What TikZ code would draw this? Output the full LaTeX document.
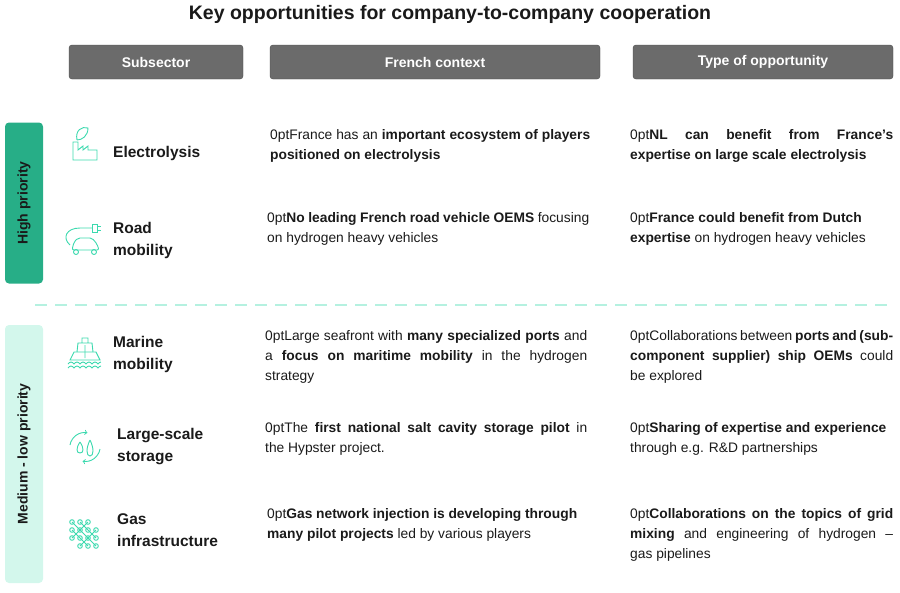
\documentclass[tikz,border=0pt]{standalone}
\usepackage{fontspec}
\setmainfont{Liberation Sans}
\definecolor{hgreen}{HTML}{27AE87}
\definecolor{mint}{HTML}{D3F7EC}
\definecolor{icon}{HTML}{3BD9AE}
\definecolor{hdr}{HTML}{6B6B6B}
\definecolor{txt}{HTML}{1A1A1A}
\begin{document}
\begin{tikzpicture}[x=1pt,y=-1pt,
  hdrbox/.style={draw=hdr!70!black,fill=hdr,rounded corners=3pt,text=white,font=\fontsize{14}{16}\selectfont\bfseries},
  sub/.style={anchor=west,align=left,text=txt,font=\fontsize{15.5}{22}\selectfont\bfseries,inner sep=0pt},
  body/.style={anchor=north west,align=justify,text=txt,font=\fontsize{13.8}{20}\selectfont\hyphenpenalty=10000\exhyphenpenalty=10000,inner sep=0pt},
  ic/.style={draw=icon,line width=0.9pt}]
\useasboundingbox (0,0) rectangle (900,592);
\node[font=\fontsize{19.5}{22}\selectfont\bfseries,text=txt] (title) at (450,14) {Key opportunities for company-to-company cooperation};
\node[hdrbox,minimum width=174,minimum height=34] (h1) at (156,62) {Subsector};
\node[hdrbox,minimum width=330,minimum height=34] (h2) at (435,62) {French context};
\node[hdrbox,minimum width=260,minimum height=34] (h3) at (763,62) {Type of opportunity};
\node[fill=hgreen,rounded corners=4pt,minimum width=38,minimum height=161] (hp) at (24,203) {};
\node[rotate=90,text=txt,font=\fontsize{14}{16}\selectfont\bfseries] (hpt) at (hp) {High priority};
\node[fill=mint,rounded corners=4pt,minimum width=38,minimum height=258] (mp) at (24,454) {};
\node[rotate=90,text=txt,font=\fontsize{14}{16}\selectfont\bfseries] (mpt) at (mp) {Medium - low priority};
\coordinate (d1) at (35,305); \coordinate (d2) at (893,305);
\draw[mint!80!icon,line width=2.5pt,dash pattern=on 12pt off 8pt] (d1) -- (d2);
% subsectors
\node[sub] (s1) at (113,153) {Electrolysis};
\node[sub] (s2) at (113,240) {Road\\mobility};
\node[sub] (s3) at (113,354) {Marine\\mobility};
\node[sub] (s4) at (117,447) {Large-scale\\storage};
\node[sub] (s5) at (117,530) {Gas\\infrastructure};
% icons
\draw[ic] (73,160) -- (73,142) -- (78,142) -- (78,150) -- (83,146) -- (83,150) -- (88,146) -- (88,150) -- (97,150) -- (97,160) -- cycle;
\draw[ic] (77,140) .. controls (75,130) and (82,126) .. (88,128) .. controls (88,136) and (82,140) .. (77,140);
\draw[ic,rounded corners=2pt] (72,250) -- (74,242) -- (78,238) -- (92,238) -- (97,244) -- (99,250) -- cycle;
\draw[ic] (76,252) circle (2.5) (94,252) circle (2.5);
\draw[ic] (70,245) .. controls (62,238) and (66,228) .. (80,228) -- (92,228);
\draw[ic] (92,224) rectangle (97,232) (97,226) -- (101,226) (97,230) -- (101,230);
\draw[ic] (70,360) -- (100,360) -- (96,352) -- (74,352) -- cycle;
\draw[ic] (77,352) -- (78,343) -- (92,343) -- (93,352) (82,343) -- (82,338) -- (88,338) -- (88,343) (85,345) -- (85,358);
\draw[ic] (68,364) sin (71,362) cos (74,364) sin (77,362) cos (80,364) sin (83,362) cos (86,364) sin (89,362) cos (92,364) sin (95,362) cos (98,364) sin (101,362);
\draw[ic] (68,368) sin (71,366) cos (74,368) sin (77,366) cos (80,368) sin (83,366) cos (86,368) sin (89,366) cos (92,368) sin (95,366) cos (98,368) sin (101,366);
\draw[ic,->] (70,445) arc (190:280:15);
\draw[ic,->] (100,449) arc (10:100:15);
\draw[ic] (80,442) .. controls (76,448) and (76,453) .. (80,453) .. controls (84,453) and (84,448) .. (80,442);
\draw[ic] (90,440) .. controls (86,448) and (86,456) .. (90,456) .. controls (94,456) and (94,448) .. (90,440);
\foreach \p in {(72,522),(80,522),(88,522),(72,530),(80,530),(88,530),(96,530),(72,538),(80,538),(88,538),(96,538),(80,546),(88,546),(96,546)}
  \draw[ic] \p circle (2.3);
\draw[ic] (72,522) -- (96,546) (72,538) -- (88,522) (80,546) -- (96,530) (72,530) -- (88,546) (80,522) -- (96,538);
% French context
\node[body,text width=320] (f1) at (270,129) {France has an \textbf{important ecosystem of players}\linebreak \textbf{positioned on electrolysis}};
\node[body,text width=322] (f2) at (267,212) {\textbf{No leading French road vehicle OEMS} focusing\linebreak on hydrogen heavy vehicles};
\node[body,text width=322] (f3) at (265,330) {Large seafront with \textbf{many specialized ports} and\linebreak a \textbf{focus on maritime mobility} in the hydrogen\linebreak strategy};
\node[body,text width=322] (f4) at (265,422) {The \textbf{first national salt cavity storage pilot} in\linebreak the Hypster project.};
\node[body,text width=310] (f5) at (267,508) {\textbf{Gas network injection is developing through}\newline \textbf{many pilot projects} led by various players};
% Type of opportunity
\node[body,text width=263] (t1) at (630,129) {\textbf{NL can benefit from France’s}\linebreak \textbf{expertise on large scale electrolysis}};
\node[body,text width=263] (t2) at (630,212) {\textbf{France could benefit from Dutch}\newline \textbf{expertise} on hydrogen heavy vehicles};
\node[body,text width=263] (t3) at (630,330) {Collaborations between \textbf{ports and (sub-}\linebreak \textbf{component supplier) ship OEMs} could\linebreak be explored};
\node[body,text width=263] (t4) at (630,422) {\textbf{Sharing of expertise and experience}\newline through e.g. R\&D partnerships};
\node[body,text width=263] (t5) at (630,508) {\textbf{Collaborations on the topics of grid}\linebreak \textbf{mixing} and engineering of hydrogen –\linebreak gas pipelines};
\end{tikzpicture}
\end{document}
